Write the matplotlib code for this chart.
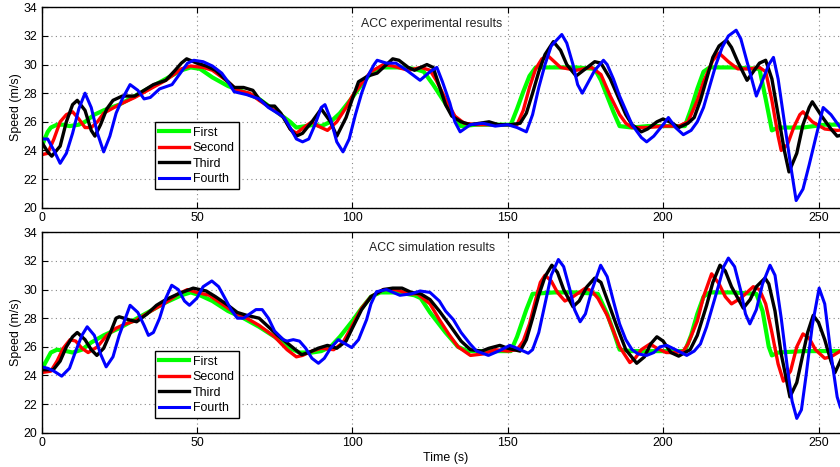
import matplotlib
matplotlib.use("Agg")
import matplotlib.pyplot as plt

plt.rcParams['font.family'] = ['Liberation Sans', 'DejaVu Sans']

# ---------------- data: experimental (top) ----------------
exp_first_t = [0, 1, 2, 3, 5, 7, 9, 12, 14, 17, 20, 25, 30, 35, 40, 45, 48, 51, 55, 60, 65, 70, 75, 80, 82, 85, 88, 90, 93, 96, 100, 103, 106, 109, 115, 120, 123, 126, 129, 132, 135, 140, 145, 151, 153, 155, 157, 159, 165, 172, 178, 180, 182, 184, 186, 190, 195, 200, 207, 209, 211, 213, 215, 222, 231, 233, 235, 237, 245, 252, 260]
exp_first_v = [24.2, 24.8, 25.3, 25.6, 25.8, 25.8, 25.7, 25.8, 26.0, 26.5, 26.8, 27.2, 27.8, 28.4, 29.0, 29.6, 29.8, 29.7, 29.1, 28.5, 28.1, 27.6, 26.8, 26.0, 25.6, 25.7, 25.8, 25.7, 26.0, 26.6, 27.7, 28.6, 29.4, 29.8, 29.8, 29.7, 29.5, 28.6, 27.6, 26.6, 25.7, 25.8, 25.8, 25.8, 26.9, 28.1, 29.2, 29.8, 29.8, 29.8, 29.7, 28.9, 27.8, 26.7, 25.7, 25.6, 25.7, 25.7, 25.7, 26.9, 28.3, 29.5, 29.8, 29.8, 29.7, 27.6, 25.4, 25.6, 25.6, 25.8, 25.8]

exp_second_t = [0, 2, 4, 6, 8, 10, 12, 14, 16, 18, 20, 25, 30, 35, 40, 45, 48, 52, 55, 60, 63, 67, 70, 75, 78, 80, 82, 85, 87, 89, 92, 95, 98, 100, 103, 106, 110, 113, 118, 122, 125, 127, 130, 133, 136, 140, 146, 153, 155, 157, 159, 161, 163, 165, 167, 172, 177, 180, 183, 186, 188, 190, 195, 200, 205, 208, 211, 213, 216, 218, 221, 224, 228, 231, 233, 235, 237, 238, 240, 242, 244, 245, 248, 252, 256, 260]
exp_second_v = [23.7, 23.8, 24.8, 26.0, 26.5, 26.7, 26.2, 25.6, 25.6, 26.0, 26.6, 27.2, 27.7, 28.3, 28.9, 29.7, 29.9, 29.8, 29.6, 28.8, 28.2, 28.0, 27.5, 26.8, 26.3, 25.5, 25.2, 25.7, 26.0, 25.7, 25.4, 26.0, 27.0, 27.8, 28.7, 29.5, 30.0, 29.9, 29.6, 29.8, 29.6, 28.9, 27.6, 26.4, 25.9, 25.8, 25.8, 25.8, 26.8, 28.4, 29.7, 30.4, 30.6, 30.2, 29.8, 29.6, 29.8, 29.3, 27.8, 26.5, 25.9, 25.6, 25.6, 25.7, 25.7, 26.0, 27.5, 28.8, 30.3, 30.8, 30.2, 29.7, 29.7, 29.8, 29.5, 27.5, 25.0, 24.0, 24.4, 25.6, 26.5, 26.7, 26.0, 25.5, 25.4, 25.5]

exp_third_t = [0, 2, 3.3, 6, 8, 10, 11.5, 14, 16, 17.2, 19, 21, 23, 26, 30, 33, 36, 40, 43, 45, 46.7, 50, 53, 56, 60, 62, 65, 68, 70, 73, 75, 77, 80, 82, 84, 87, 90, 93, 95, 98, 100, 102, 105, 108, 110, 113, 115, 118, 120, 124, 126, 128, 130, 132, 135, 138, 141, 144, 147, 151, 154, 156, 158, 160, 162, 164.7, 167, 169, 172, 175, 178, 180, 183, 186, 188, 190, 193, 195, 198, 200, 203, 205, 208, 210, 212, 214, 216, 218, 220.4, 222, 224, 227, 229, 231, 233, 235, 237, 239, 240.5, 243, 245, 247, 248, 251, 254, 256, 258, 260]
exp_third_v = [24.6, 23.9, 23.6, 24.3, 26.0, 27.2, 27.5, 26.8, 25.4, 25.0, 25.8, 26.9, 27.5, 27.8, 27.8, 28.2, 28.6, 28.9, 29.6, 30.1, 30.4, 30.1, 29.9, 29.6, 28.8, 28.4, 28.4, 28.2, 27.6, 27.1, 27.1, 26.6, 25.5, 25.0, 25.2, 26.0, 26.9, 26.0, 25.0, 26.3, 27.6, 28.8, 29.2, 29.4, 29.8, 30.4, 30.3, 29.8, 29.6, 30.0, 29.8, 28.5, 27.2, 26.4, 26.0, 25.8, 25.9, 26.0, 25.8, 25.8, 25.9, 26.6, 28.0, 29.5, 30.7, 31.6, 31.0, 30.0, 29.2, 29.7, 30.2, 30.1, 29.0, 27.5, 26.5, 25.8, 25.3, 25.5, 26.0, 26.2, 25.9, 25.6, 25.9, 26.3, 27.5, 29.0, 30.5, 31.3, 31.7, 31.2, 30.2, 28.9, 29.5, 30.1, 30.3, 29.0, 26.5, 24.0, 22.5, 23.8, 25.8, 27.0, 27.4, 26.4, 25.5, 25.0, 25.1, 25.3]

exp_fourth_t = [0, 2, 4, 6, 8, 10, 12, 14, 16, 18, 20, 22, 24, 26, 28.5, 31, 33, 35, 38, 42, 45, 47, 49, 52, 55, 58, 60, 62, 66, 70, 73, 76, 78, 80, 82, 84, 86, 88, 90, 91.2, 93, 95, 97, 99, 101, 103, 105, 107, 108, 111, 114, 117.5, 121.8, 125, 127.2, 129, 131.4, 133, 134.7, 138, 142, 146, 150, 153, 156, 158, 160, 162, 164, 167.4, 169, 171, 172.5, 174, 176, 178, 180.8, 182, 184, 186, 188, 190, 193, 194.7, 197, 200, 201.7, 204, 206.5, 209, 211, 213, 215, 217, 219, 221, 223.5, 225, 227, 229, 230, 232, 234, 235.5, 237, 239, 241, 242.8, 245, 247, 249, 251.5, 254, 257, 260]
exp_fourth_v = [24.8, 24.8, 24.0, 23.1, 23.8, 25.2, 26.9, 28.0, 27.0, 25.2, 23.9, 25.0, 26.6, 27.6, 28.6, 28.2, 27.6, 27.7, 28.3, 28.6, 29.5, 30.1, 30.3, 30.2, 29.9, 29.4, 28.8, 28.1, 27.9, 27.6, 27.0, 26.6, 26.3, 25.6, 24.8, 24.6, 24.8, 25.8, 27.0, 27.2, 26.2, 24.6, 23.9, 24.8, 26.5, 28.0, 29.2, 30.0, 30.3, 30.1, 30.1, 29.6, 28.9, 29.5, 29.8, 28.8, 27.3, 26.0, 25.3, 25.8, 25.9, 25.7, 25.8, 25.6, 25.3, 26.5, 28.4, 30.0, 31.3, 32.1, 31.5, 30.0, 28.6, 28.0, 28.8, 29.6, 30.3, 30.0, 29.0, 27.8, 26.8, 25.8, 24.9, 24.6, 25.0, 25.8, 26.3, 25.6, 25.1, 25.4, 26.0, 27.0, 28.5, 30.0, 31.2, 32.0, 32.4, 31.8, 30.2, 28.6, 27.8, 28.9, 30.0, 30.5, 29.0, 26.0, 23.0, 20.5, 21.3, 23.0, 24.8, 27.0, 26.5, 25.6, 25.3]

# ---------------- data: simulation (bottom) ----------------
sim_first_t = [0, 1, 2, 3, 5, 8, 10, 13, 16, 20, 25, 30, 35, 40, 45, 48, 51, 55, 60, 65, 70, 75, 80, 83, 87, 90, 93, 96, 100, 103, 106, 109, 115, 120, 122, 125, 130, 134, 137, 145, 151, 153, 156, 158, 165, 172, 179, 182, 184, 186, 190, 200, 207, 209, 211, 213, 215, 222, 230, 232, 234, 235, 237, 245, 252, 260]
sim_first_v = [24.2, 24.8, 25.2, 25.6, 25.8, 25.7, 25.6, 25.8, 26.3, 26.8, 27.3, 27.9, 28.5, 29.1, 29.6, 29.8, 29.6, 29.2, 28.5, 28.0, 27.4, 26.7, 25.9, 25.6, 25.6, 25.7, 26.0, 26.7, 27.8, 28.7, 29.5, 29.8, 29.8, 29.6, 29.4, 28.4, 27.0, 26.0, 25.7, 25.7, 25.7, 26.7, 28.6, 29.7, 29.8, 29.8, 29.7, 28.3, 27.1, 25.8, 25.7, 25.7, 25.7, 26.8, 28.3, 29.5, 29.8, 29.8, 29.7, 28.5, 26.0, 25.4, 25.6, 25.7, 25.7, 25.7]

sim_second_t = [0, 3, 5, 7, 9.2, 11, 13, 15, 18, 21, 24, 27, 30, 33, 36, 40, 44, 47, 50, 54, 58, 62, 66, 70, 75, 79, 82, 84, 87, 90, 94, 97, 100, 103, 106, 110, 114, 118, 121, 125, 128, 131, 134, 138, 142, 146, 150, 153, 155, 157, 159, 160.5, 162, 164, 166, 168.4, 171, 175, 177, 179, 182, 184, 186, 189.3, 191, 193, 195.8, 198, 201, 204, 206.5, 208, 209.5, 211, 213, 215.6, 218, 220, 222, 225, 229, 231, 233, 235, 237, 238.7, 241, 243, 245, 247, 249, 252, 254, 257, 260]
sim_second_v = [24.2, 24.3, 25.0, 25.9, 26.5, 26.4, 25.9, 25.6, 26.0, 26.8, 27.3, 27.6, 27.8, 28.2, 28.6, 29.1, 29.7, 30.0, 29.8, 29.6, 29.0, 28.4, 28.0, 27.5, 26.7, 25.8, 25.3, 25.4, 25.7, 25.9, 25.8, 26.3, 27.5, 28.7, 29.5, 30.0, 30.0, 29.7, 29.7, 29.0, 27.9, 26.9, 26.0, 25.4, 25.5, 25.8, 25.7, 25.8, 26.4, 27.6, 29.3, 30.5, 31.0, 30.6, 29.8, 29.2, 29.5, 30.1, 29.9, 29.4, 28.2, 27.1, 26.0, 24.9, 25.2, 25.8, 26.2, 25.9, 25.6, 25.6, 25.7, 26.2, 27.0, 27.8, 29.5, 31.1, 30.4, 29.5, 29.0, 29.4, 30.2, 30.0, 29.0, 27.0, 24.8, 23.6, 24.3, 26.0, 26.9, 26.6, 25.8, 25.2, 25.3, 25.7, 26.1]

sim_third_t = [0, 3.8, 6, 8, 10, 11.5, 14, 16, 17.8, 20, 22, 24, 25, 28, 30.6, 34, 37, 40, 44, 48.8, 53, 56, 60, 63, 66, 68, 70, 73, 76, 80, 83.7, 86, 89, 92, 95, 98, 100, 103, 106, 110, 113, 116, 119, 122, 125, 128, 131.4, 135, 138, 141.6, 144, 147.5, 150, 154, 156, 158, 160, 162, 164.2, 166, 168, 171, 173, 175.5, 178, 180, 182, 185, 188, 191.5, 194, 196, 198, 200, 202.5, 205, 208.7, 211, 214, 216, 218.3, 220, 222, 225.8, 228, 230, 232.8, 234, 236, 238, 240.8, 243, 245, 246.5, 248.3, 250, 252, 254, 255.3, 257, 260]
sim_third_v = [24.4, 24.4, 25.0, 26.0, 26.7, 27.0, 26.5, 25.8, 25.4, 25.9, 26.9, 28.0, 28.1, 27.9, 27.75, 28.3, 28.9, 29.3, 29.7, 30.1, 29.9, 29.5, 28.9, 28.4, 28.2, 28.1, 28.0, 27.4, 26.8, 26.1, 25.45, 25.6, 25.9, 26.1, 25.9, 26.4, 27.3, 28.6, 29.5, 30.0, 30.1, 30.1, 29.8, 29.7, 29.3, 28.5, 27.5, 26.4, 25.8, 25.7, 25.9, 26.1, 25.9, 25.7, 26.5, 28.0, 29.6, 30.9, 31.7, 31.2, 30.0, 28.8, 29.2, 30.2, 30.8, 30.5, 29.3, 27.5, 25.8, 24.85, 25.3, 26.2, 26.7, 26.4, 25.6, 25.35, 25.8, 26.8, 28.9, 30.5, 31.7, 31.3, 30.2, 28.7, 29.3, 30.2, 30.8, 30.4, 28.5, 25.5, 22.5, 23.5, 25.5, 27.0, 28.2, 27.7, 26.5, 25.0, 24.2, 25.0, 26.5]

sim_fourth_t = [0, 2, 4, 6.5, 9, 11, 13, 14.7, 17, 19, 20.8, 23, 25, 27, 28.5, 31, 33, 34.4, 36, 38, 40, 41.9, 44, 46, 47.6, 50, 52, 54.8, 57, 59, 61, 63, 65, 67, 69, 71, 73, 75, 77.8, 79, 81, 83, 85, 87, 89.1, 91, 93, 95.5, 97, 99.8, 102, 104.6, 106, 107.8, 111, 115.3, 119, 121.8, 125, 128, 130, 132.5, 135, 137.9, 140, 143.8, 147, 150.7, 153, 156.6, 158, 160, 162, 164, 166.3, 168, 170, 171.5, 173.3, 175, 177, 179.9, 182, 184, 186, 188, 190, 192, 194.7, 197, 199, 201.2, 204, 207.6, 210, 212, 214, 216, 218, 219.5, 221, 223, 225, 226.5, 227.9, 230, 232, 234.4, 236, 238, 240, 241.5, 243, 244.5, 246, 248, 250.2, 252, 254, 256, 257, 259, 260]
sim_fourth_v = [24.6, 24.5, 24.3, 23.95, 24.5, 25.7, 26.8, 27.4, 26.8, 25.5, 24.6, 25.3, 26.8, 28.0, 28.9, 28.4, 27.5, 26.8, 27.0, 28.0, 29.4, 30.3, 30.0, 29.2, 28.9, 29.4, 30.2, 30.6, 30.2, 29.4, 28.6, 28.0, 28.0, 28.3, 28.6, 28.6, 28.0, 27.1, 26.5, 26.4, 26.5, 26.4, 25.9, 25.2, 24.85, 25.2, 25.9, 26.5, 26.3, 25.95, 26.5, 27.9, 29.0, 29.85, 30.0, 29.6, 29.7, 29.9, 29.8, 29.2, 28.5, 27.9, 27.0, 26.2, 25.7, 25.4, 25.7, 26.1, 25.9, 25.55, 25.8, 27.0, 29.0, 31.0, 32.1, 31.6, 30.0, 28.6, 27.75, 28.3, 29.9, 31.7, 30.9, 29.2, 27.6, 26.5, 25.8, 25.5, 25.4, 25.6, 26.0, 26.1, 25.8, 25.4, 25.7, 26.2, 27.4, 28.9, 30.4, 31.6, 32.2, 31.6, 29.9, 28.3, 27.6, 28.6, 30.4, 31.7, 31.0, 28.0, 24.5, 22.2, 21.0, 21.6, 24.0, 27.5, 30.1, 29.0, 25.5, 22.5, 21.8, 21.0, 21.0]

labels = ['First', 'Second', 'Third', 'Fourth']
colors = ['#00ff00', '#ff0000', '#000000', '#0000ff']
titles = ['ACC experimental results', 'ACC simulation results']
xticks = [0, 50, 100, 150, 200, 250]
yticks = [20, 22, 24, 26, 28, 30, 32, 34]

panels = [
    [(exp_first_t, exp_first_v), (exp_second_t, exp_second_v),
     (exp_third_t, exp_third_v), (exp_fourth_t, exp_fourth_v)],
    [(sim_first_t, sim_first_v), (sim_second_t, sim_second_v),
     (sim_third_t, sim_third_v), (sim_fourth_t, sim_fourth_v)],
]

W, H = 840, 467
fig = plt.figure(figsize=(W / 100, H / 100), dpi=100)

left = 41.5 / W
ax_w = 808.1
width = ax_w / W
ax_top = [7.3, 232.3]      # px of y=34
ax_h = 200.4
leg_bottom = [189.3, 418.3]  # px of legend box bottom

fs = 8.9
for i, series in enumerate(panels):
    top_px = ax_top[i]
    bottom = 1 - (top_px + ax_h) / H
    ax = fig.add_axes([left, bottom, width, ax_h / H])
    lws = [3.0, 2.4, 2.4, 2.2]
    for (t, v), lab, c, lw in zip(series, labels, colors, lws):
        ax.plot(t, v, color=c, lw=lw, label=lab, solid_joinstyle='round')
    ax.set_xlim(0, 260)
    ax.set_ylim(20, 34)
    ax.set_xticks(xticks)
    ax.set_yticks(yticks)
    ax.tick_params(direction='in', length=4, width=0.8, labelsize=fs,
                   top=True, right=True, pad=3)
    ax.grid(True, color='#888888', linestyle=(0, (1, 3)), linewidth=0.8)
    for s in ax.spines.values():
        s.set_linewidth(1.0)
        s.set_color('black')
    ax.set_ylabel('Speed (m/s)', fontsize=fs, labelpad=1)
    ax.text(125.6, 32.8 if i == 0 else 32.9, titles[i], ha='center', va='center',
            fontsize=fs, color='#222222')
    y0 = (top_px + ax_h - leg_bottom[i]) / ax_h
    leg = ax.legend(loc='lower left',
                    bbox_to_anchor=((155 - 41.5) / ax_w, y0),
                    fontsize=fs, frameon=True, fancybox=False,
                    edgecolor='black', framealpha=1, borderaxespad=0,
                    handlelength=2.4, handletextpad=0.3, borderpad=0.35,
                    labelspacing=0.28)
    leg.get_frame().set_linewidth(1.0)
    if i == 1:
        ax.set_xlabel('Time (s)', fontsize=fs, labelpad=2)

fig.savefig('out.png', dpi=100)
